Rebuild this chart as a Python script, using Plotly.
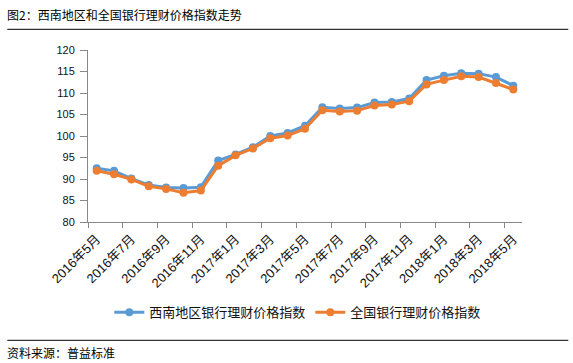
import plotly.graph_objects as go

categories = ["2016年5月","2016年6月","2016年7月","2016年8月","2016年9月","2016年10月","2016年11月","2016年12月",
              "2017年1月","2017年2月","2017年3月","2017年4月","2017年5月","2017年6月","2017年7月","2017年8月",
              "2017年9月","2017年10月","2017年11月","2017年12月","2018年1月","2018年2月","2018年3月","2018年4月","2018年5月"]
southwest = [92.5, 91.9, 90.1, 88.6, 88.0, 87.9, 88.1, 94.3, 95.7, 97.4, 100.0, 100.7, 102.4,
             106.7, 106.4, 106.6, 107.8, 107.9, 108.7, 113.0, 114.0, 114.6, 114.5, 113.7, 111.7]
national = [91.9, 91.1, 89.9, 88.3, 87.7, 86.8, 87.3, 93.1, 95.5, 97.1, 99.5, 100.1, 101.7,
            106.0, 105.7, 105.9, 107.1, 107.3, 108.1, 112.0, 113.0, 113.9, 113.7, 112.3, 110.8]
series_names = ["西南地区银行理财价格指数", "全国银行理财价格指数"]
tick_labels = categories[::2]
y_ticks = [80, 85, 90, 95, 100, 105, 110, 115, 120]

W, H = 573, 363
L, R, T, B = 87.7, 521.7, 49.7, 221.7

def px(x):
    return (x - L) / (R - L)

def py(y):
    return (B - y) / (B - T)

idx = list(range(len(categories)))
fig = go.Figure()
colors = ["#5B9BD5", "#ED7D31"]
for name, vals, c in zip(series_names, [southwest, national], colors):
    fig.add_trace(go.Scatter(x=idx, y=vals, name=name, mode="lines+markers",
                             line=dict(color=c, width=3), marker=dict(color=c, size=8),
                             hovertext=categories))
# invisible trace to activate xaxis2
fig.add_trace(go.Scatter(x=[idx[0]], y=[southwest[0]], xaxis="x2", mode="markers",
                         marker=dict(opacity=0), showlegend=False, hoverinfo="skip"))

font_ticks = dict(family="Liberation Sans, Noto Sans CJK SC, sans-serif", size=11, color="#111")
font_xticks = dict(family="Liberation Sans, Noto Sans CJK SC, sans-serif", size=13, color="#111")
xr = [-0.5, len(categories) - 0.5]
fig.update_layout(
    width=W, height=H,
    margin=dict(l=L, r=W - R, t=T, b=H - B, pad=0, autoexpand=False),
    paper_bgcolor="white", plot_bgcolor="white",
    xaxis=dict(range=xr, tickmode="array",
               tickvals=[i - 0.5 for i in idx[::2]], ticktext=[""] * len(idx[::2]),
               ticks="outside", ticklen=5, tickcolor="#888", showline=True, linecolor="#888",
               linewidth=1, showgrid=False, zeroline=False, automargin=False),
    xaxis2=dict(range=xr, overlaying="x", anchor="y", side="bottom", tickmode="array",
                tickvals=idx[::2], ticktext=tick_labels, tickangle=-45, ticks="",
                ticklabelstandoff=6, automargin=False,
                showline=False, showgrid=False, zeroline=False, tickfont=font_xticks),
    yaxis=dict(range=[80, 120], tickmode="array", tickvals=y_ticks, ticks="outside",
               ticklen=7, tickcolor="#888", showline=True, linecolor="#888", linewidth=1,
               ticklabelstandoff=3, automargin=False,
               showgrid=False, zeroline=False, tickfont=font_ticks),
    legend=dict(orientation="h", x=px(297.5), xanchor="center", y=py(312), yanchor="middle",
                font=dict(family="Noto Sans CJK SC, sans-serif", size=13, color="#111"),
                itemwidth=30, tracegroupgap=0),
    showlegend=True,
)
fig.add_annotation(text="图2：西南地区和全国银行理财价格指数走势", xref="paper", yref="paper",
                   x=px(5), y=py(14), xanchor="left", yanchor="middle", showarrow=False,
                   font=dict(family="Noto Sans CJK SC, sans-serif", size=12, color="#000"))
fig.add_annotation(text="资料来源：普益标准", xref="paper", yref="paper",
                   x=px(5), y=py(352), xanchor="left", yanchor="middle", showarrow=False,
                   font=dict(family="Noto Sans CJK SC, sans-serif", size=12, color="#000"))
fig.add_shape(type="line", xref="paper", yref="paper", x0=px(7), x1=px(568), y0=py(29), y1=py(29),
              line=dict(color="#000", width=1))
fig.add_shape(type="line", xref="paper", yref="paper", x0=px(7), x1=px(568), y0=py(340), y1=py(340),
              line=dict(color="#000", width=1))
fig.write_html("out.html", config={"displayModeBar": False},
               post_script="document.body.style.margin='0';document.body.style.overflow='hidden';")
